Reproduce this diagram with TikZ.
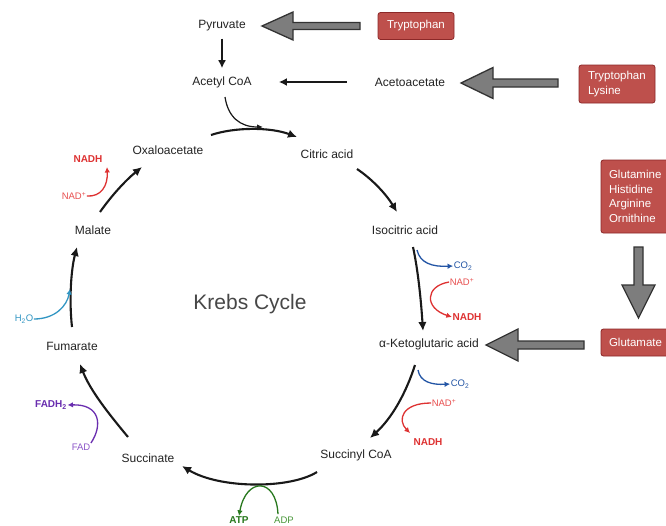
\documentclass[tikz,border=0pt]{standalone}
\usepackage{fontspec}
\setmainfont{Liberation Sans}
\usetikzlibrary{arrows.meta}
\definecolor{boxred}{RGB}{190,80,76}
\definecolor{boxedge}{RGB}{140,40,40}
\definecolor{nadred}{RGB}{222,50,50}
\definecolor{nadlight}{RGB}{232,80,80}
\definecolor{co2blue}{RGB}{35,85,165}
\definecolor{h2oblue}{RGB}{50,150,195}
\definecolor{fadpurple}{RGB}{105,45,175}
\definecolor{fadlight}{RGB}{140,85,200}
\definecolor{atpgreen}{RGB}{40,120,30}
\definecolor{adpgreen}{RGB}{70,150,55}
\definecolor{greyarrow}{RGB}{125,125,125}
\definecolor{txt}{RGB}{35,35,35}
\newcommand\blkleft[6]{% tip x, tail x, y, head length, head half, shaft half
  \draw[blk] (#1,#3) -- (#1+#4,#3-#5) -- (#1+#4,#3-#6) -- (#2,#3-#6) -- (#2,#3+#6) -- (#1+#4,#3+#6) -- (#1+#4,#3+#5) -- cycle;}
\begin{document}
\begin{tikzpicture}[x=1pt,y=-1pt,
  met/.style={font=\fontsize{12}{14}\selectfont, text=txt, inner sep=1pt},
  lbl/.style={font=\fontsize{9.5}{11}\selectfont, inner sep=0.5pt},
  lblb/.style={font=\fontsize{10}{12}\selectfont\bfseries, inner sep=0.5pt},
  box/.style={fill=boxred, draw=boxedge, line width=0.8pt, rounded corners=2.5pt, text=white,
              font=\fontsize{11.5}{14.5}\selectfont, align=left, inner ysep=2pt},
  blk/.style={fill=greyarrow, draw=black!80, line width=1.3pt, line join=miter},
  cyc/.style={-{Latex[length=9pt,width=8.5pt]}, line width=2.1pt, black!90},
  thinarr/.style={-{Latex[length=8pt,width=8pt]}, line width=1.8pt, black!90},
  side/.style={-{Latex[length=5.5pt,width=5.5pt]}, line width=1.3pt}]
\fill[white] (0,0) rectangle (666,525);
\useasboundingbox (0,0) rectangle (666,525);
\clip (0,0) rectangle (666,525);

% metabolites
\node[met] (pyr) at (222,26) {Pyruvate};
\node[met] (acoa) at (222,82) {Acetyl CoA};
\node[met] (aceto) at (410,82) {Acetoacetate};
\node[met] (oaa) at (168,150) {Oxaloacetate};
\node[met] (cit) at (327,154) {Citric acid};
\node[met] (iso) at (405,230) {Isocitric acid};
\node[met] (akg) at (429,344) {α-Ketoglutaric acid};
\node[met] (sca) at (356,455) {Succinyl CoA};
\node[met] (suc) at (148,458) {Succinate};
\node[met] (fum) at (72,346) {Fumarate};
\node[met] (mal) at (93,230) {Malate};
\node[font=\fontsize{21}{24}\selectfont, text=black!72] (kc) at (250,304) {Krebs Cycle};

% amino acid boxes
\node[box, minimum width=76pt, minimum height=27pt] (trp) at (416,26) {Tryptophan};
\node[box, text width=58pt, inner xsep=9pt, minimum height=38pt] (trplys) at (617,84) {Tryptophan\\Lysine};
\node[box, text width=64pt, inner xsep=8pt, minimum height=73pt] (gln) at (641,196.5) {Glutamine\\Histidine\\Arginine\\Ornithine};
\node[box, text width=64pt, inner xsep=8pt, minimum height=27pt] (glu) at (641,342.5) {Glutamate};

% big grey arrows
\blkleft{262}{360}{26}{31}{14}{3.5}
\blkleft{461}{558}{83}{32}{15.5}{4}
\blkleft{486}{584}{345}{32}{16}{4}
\draw[blk] (638.5,318) -- (622,285) -- (634,285) -- (634,247) -- (643,247) -- (643,285) -- (655,285) -- cycle;

% thin arrows
\draw[thinarr, shorten <=6pt, shorten >=7pt] (pyr) -- (acoa);
\draw[thinarr, shorten <=27pt, shorten >=26pt] (aceto.west) -- (aceto.west -| acoa.east);
\coordinate (ac1) at (225,97);
\coordinate (ac2) at (263,127);
\draw[-{Latex[length=6pt,width=5.5pt]}, line width=1.2pt, black!90] (ac1) .. controls (228,117) and (240,127) .. (ac2);

% cycle arrows
\coordinate (c1a) at (211,135); \coordinate (c1b) at (297,137);
\draw[cyc] (c1a) .. controls (235,127) and (270,127) .. (c1b);
\coordinate (c2a) at (357,169); \coordinate (c2b) at (397,212);
\draw[cyc] (c2a) .. controls (372,179) and (386,194) .. (c2b);
\coordinate (c3a) at (413,247); \coordinate (c3b) at (423,331);
\draw[cyc] (c3a) .. controls (418,270) and (421,300) .. (c3b);
\coordinate (c4a) at (415,365); \coordinate (c4b) at (370,438);
\draw[cyc] (c4a) .. controls (406,393) and (392,418) .. (c4b);
\coordinate (c5a) at (317,472); \coordinate (c5b) at (182,466);
\draw[cyc] (c5a) .. controls (290,489) and (220,489) .. (c5b);
\coordinate (c6a) at (128,437); \coordinate (c6b) at (80,364);
\draw[cyc] (c6a) .. controls (108,413) and (90,390) .. (c6b);
\coordinate (c7a) at (72,327); \coordinate (c7b) at (77,247);
\draw[cyc] (c7a) .. controls (69,300) and (71,270) .. (c7b);
\coordinate (c8a) at (100,212); \coordinate (c8b) at (142,167);
\draw[cyc] (c8a) .. controls (112,195) and (126,180) .. (c8b);

% side reactions: isocitrate -> a-KG
\node[lbl, text=co2blue] (co2a) at (463,266) {CO\textsubscript{2}};
\node[lbl, text=nadlight] (nada) at (462,282) {NAD\textsuperscript{+}};
\node[lblb, text=nadred] (nadha) at (467,317) {NADH};
\coordinate (s1) at (417,250);
\draw[side, co2blue] (s1) .. controls (420,263) and (432,267) .. (co2a.west);
\draw[side, nadred] (nada.west) .. controls (425,286) and (424,308) .. (nadha.west);

% a-KG -> succinyl CoA
\node[lbl, text=co2blue] (co2b) at (460,384) {CO\textsubscript{2}};
\node[lbl, text=nadlight] (nadb) at (444,403) {NAD\textsuperscript{+}};
\node[lblb, text=nadred] (nadhb) at (428,442) {NADH};
\coordinate (s2) at (418,370);
\draw[side, co2blue] (s2) .. controls (420,382) and (432,385) .. (co2b.west);
\coordinate (s3) at (410,433);
\draw[side, nadred] (nadb.west) .. controls (402,403) and (397,420) .. (s3);

% malate -> oxaloacetate
\node[lbl, text=nadlight] (nadc) at (74,196) {NAD\textsuperscript{+}};
\node[lblb, text=nadred] (nadhc) at (88,159) {NADH};
\coordinate (s4) at (107,167);
\draw[side, nadred] (nadc.east) .. controls (101,197) and (108,186) .. (s4);

% fumarate -> malate
\node[lbl, text=h2oblue] (h2o) at (24,319) {H\textsubscript{2}O};
\coordinate (s5) at (70,289);
\draw[side, h2oblue] (h2o.east) .. controls (55,319) and (67,306) .. (s5);

% succinate -> fumarate
\node[lbl, text=fadlight] (fad) at (81,447) {FAD};
\node[lblb, text=fadpurple] (fadh) at (51,405) {FADH\textsubscript{2}};
\draw[side, fadpurple] (fad.north east) .. controls (103,425) and (100,404) .. (fadh.east);

% succinyl CoA -> succinate
\node[lblb, text=atpgreen] (atp) at (239,520) {ATP};
\node[lbl, text=adpgreen] (adp) at (284,520) {ADP};
\draw[side, atpgreen] (adp.north) ++(-6,-2) .. controls (276,477) and (246,477) .. (atp.north);
\end{tikzpicture}
\end{document}
